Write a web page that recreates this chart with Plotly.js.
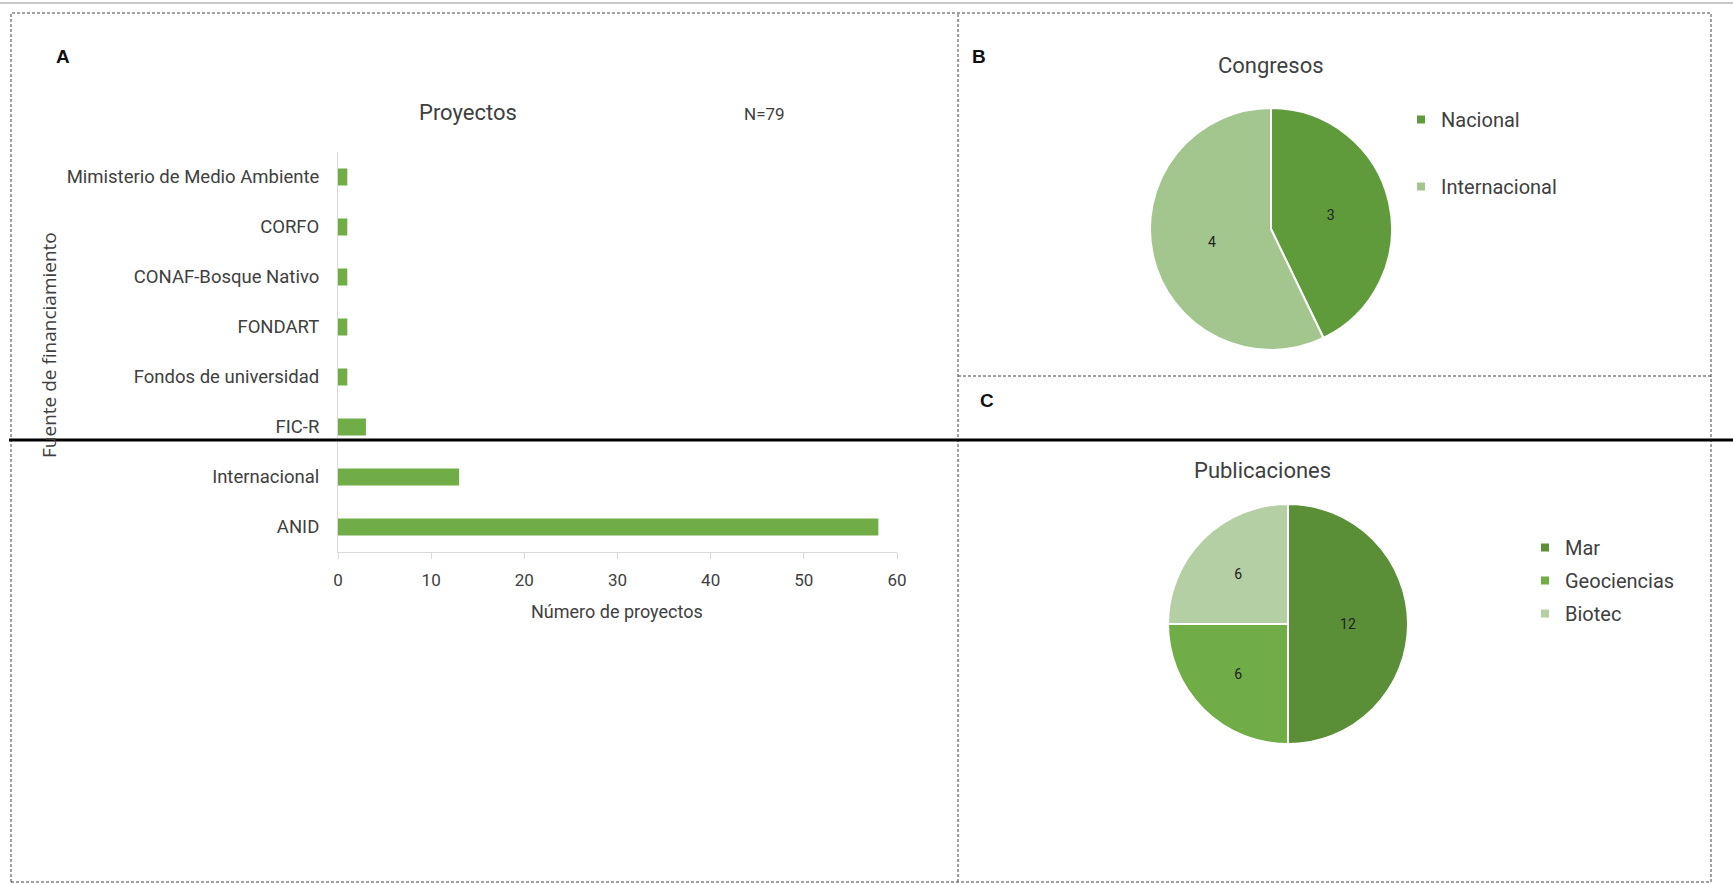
<!DOCTYPE html>
<html>
<head>
<meta charset="utf-8">
<script src="https://cdn.plot.ly/plotly-3.0.1.min.js"></script>
<style>html,body{margin:0;padding:0;background:#fff;}#chart{width:1733px;height:884px;}</style>
</head>
<body>
<div id="chart"></div>
<script>
// ---- Data ----
const fuentes = ["Mimisterio de Medio Ambiente","CORFO","CONAF-Bosque Nativo","FONDART","Fondos de universidad","FIC-R","Internacional","ANID"];
const proyectos = [1,1,1,1,1,3,13,58];
const xTicks = [0,10,20,30,40,50,60];

const congresosLabels = ["Nacional","Internacional"];
const congresosValues = [3,4];

const publicacionesLabels = ["Mar","Geociencias","Biotec"];
const publicacionesValues = [12,6,6];

// ---- Styles ----
const W = 1733, H = 884;
const px = x => x / W;
const py = y => 1 - y / H;
const FONT = "Roboto, Liberation Sans, sans-serif";
const barColor = "#70ad47";
const congColors = ["#5f9a3b", "#a3c58e"];
const pubColors = ["#5a8f38", "#70ad47", "#b3cfa3"];
const textColor = "#404040";

const traces = [];

traces.push({
  type: "bar", orientation: "h",
  y: fuentes, x: proyectos,
  marker: {color: barColor},
  width: 0.34,
  showlegend: false, hoverinfo: "x+y",
  xaxis: "x", yaxis: "y"
});

traces.push({
  type: "pie", labels: congresosLabels, values: congresosValues,
  sort: false, direction: "clockwise", rotation: 0,
  marker: {colors: congColors, line: {color: "#ffffff", width: 2}},
  textinfo: "value", textposition: "inside", insidetextorientation: "horizontal",
  textfont: {family: FONT, size: 14, color: "#222"},
  domain: {x: [px(1150), px(1392)], y: [py(350), py(108)]},
  showlegend: false
});

traces.push({
  type: "pie", labels: publicacionesLabels, values: publicacionesValues,
  sort: false, direction: "clockwise", rotation: 0,
  marker: {colors: pubColors, line: {color: "#ffffff", width: 2}},
  textinfo: "value", textposition: "inside", insidetextorientation: "horizontal",
  textfont: {family: FONT, size: 14, color: "#222"},
  domain: {x: [px(1168), px(1408)], y: [py(744), py(504)]},
  showlegend: false
});

// legend entries (markers only in legend)
congresosLabels.forEach((lab, i) => {
  traces.push({type: "scatter", mode: "markers", x: [null], y: [null], name: lab,
    marker: {symbol: "square", size: 8, color: congColors[i]},
    legend: "legend", legendgroup: "c" + i, xaxis: "x", yaxis: "y", hoverinfo: "skip"});
});
publicacionesLabels.forEach((lab, i) => {
  traces.push({type: "scatter", mode: "markers", x: [null], y: [null], name: lab,
    marker: {symbol: "square", size: 8, color: pubColors[i]},
    legend: "legend2", legendgroup: "p" + i, xaxis: "x", yaxis: "y", hoverinfo: "skip"});
});

const dash = "3px,2px";
const frameColor = "#444";
const shapes = [
  {type: "line", xref: "paper", yref: "paper", x0: 0, x1: 1, y0: py(3), y1: py(3), line: {color: "#c8c8c8", width: 2}},
  {type: "rect", xref: "paper", yref: "paper", x0: px(11), x1: px(1711), y0: py(882), y1: py(13), line: {color: frameColor, width: 1, dash: dash}},
  {type: "line", xref: "paper", yref: "paper", x0: px(958), x1: px(958), y0: py(882), y1: py(13), line: {color: frameColor, width: 1, dash: dash}},
  {type: "line", xref: "paper", yref: "paper", x0: px(958), x1: px(1711), y0: py(376), y1: py(376), line: {color: frameColor, width: 1, dash: dash}},
  {type: "line", xref: "paper", yref: "paper", x0: px(9), x1: 1, y0: py(440), y1: py(440), line: {color: "#000", width: 3}}
];

const ann = (text, x, y, size, opts) => Object.assign({
  text: text, xref: "paper", yref: "paper", x: px(x), y: py(y), showarrow: false,
  xanchor: "center", yanchor: "middle", font: {family: FONT, size: size, color: textColor}
}, opts || {});

const boldFont = {family: "Liberation Sans, Arial, sans-serif", size: 19, color: "#111"};
const annotations = [
  ann("<b>A</b>", 63, 57, 19, {font: boldFont}),
  ann("<b>B</b>", 979, 57, 19, {font: boldFont}),
  ann("<b>C</b>", 987, 401, 19, {font: boldFont}),
  ann("Proyectos", 468, 113, 22),
  ann("N=79", 764, 114, 17),
  ann("Congresos", 1271, 66, 22),
  ann("Publicaciones", 1262, 470, 22),
  ann("Número de proyectos", 617, 611, 18),
  ann("Fuente de financiamiento", 49, 345, 19, {textangle: -90,
    font: {family: "Open Sans, DejaVu Sans, sans-serif", size: 19, color: textColor}})
];

const layout = {
  width: W, height: H,
  margin: {l: 0, r: 0, t: 0, b: 0},
  paper_bgcolor: "#ffffff", plot_bgcolor: "#ffffff",
  font: {family: FONT, color: textColor},
  xaxis: {
    domain: [px(338), px(897)], range: [0, 60], tickvals: xTicks,
    showgrid: false, zeroline: false, showline: true, linecolor: "#d9d9d9", linewidth: 1,
    ticks: "outside", ticklen: 6, tickcolor: "#d9d9d9", ticklabelstandoff: 7,
    tickfont: {family: FONT, size: 17, color: textColor},
    anchor: "y", fixedrange: true
  },
  yaxis: {
    domain: [py(552), py(152)], autorange: "reversed", type: "category",
    showgrid: false, zeroline: false, showline: true, linecolor: "#d9d9d9", linewidth: 1,
    ticks: "", tickfont: {family: FONT, size: 18.5, color: textColor}, ticklabelstandoff: 14,
    anchor: "x", fixedrange: true
  },
  legend: {
    x: px(1401), y: py(100), xanchor: "left", yanchor: "top",
    font: {family: FONT, size: 20, color: textColor},
    tracegroupgap: 38, bgcolor: "rgba(0,0,0,0)", itemclick: false, itemdoubleclick: false
  },
  legend2: {
    x: px(1525), y: py(528), xanchor: "left", yanchor: "top",
    font: {family: FONT, size: 20, color: textColor},
    tracegroupgap: 4, bgcolor: "rgba(0,0,0,0)", itemclick: false, itemdoubleclick: false
  },
  shapes: shapes,
  annotations: annotations,
  bargap: 0.66
};

Plotly.newPlot("chart", traces, layout, {displayModeBar: false, staticPlot: true});
</script>
</body>
</html>
